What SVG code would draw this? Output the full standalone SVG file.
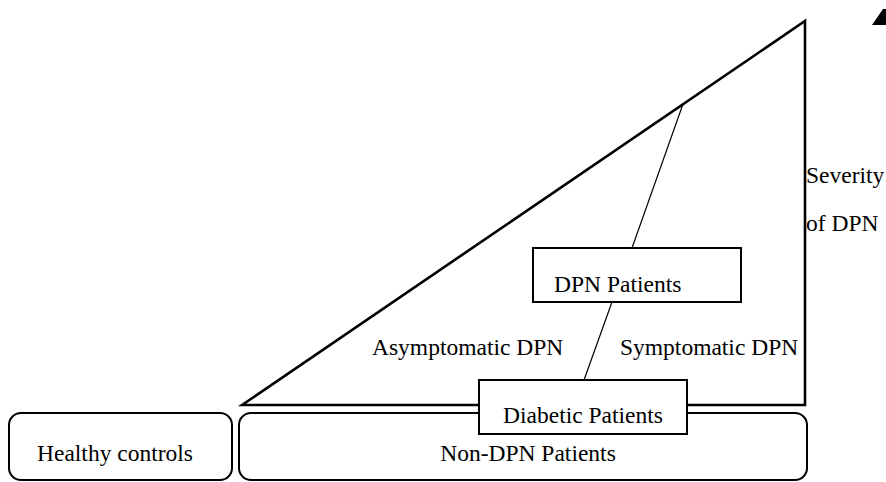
<svg xmlns="http://www.w3.org/2000/svg" width="886" height="482" viewBox="0 0 886 482">
<style>
text{font-family:"Liberation Serif","Times New Roman",serif;font-size:23.5px;fill:#000}
.box{fill:#fff;stroke:#000;stroke-width:2}
.rbox{fill:none;stroke:#000;stroke-width:2}
.tri{fill:none;stroke:#000;stroke-width:2.6;stroke-linejoin:miter}
.conn{stroke:#000;stroke-width:1.2;fill:none}
</style>
<rect width="886" height="482" fill="#fff"/>
<g id="severity">
<polygon class="tri" points="242,405 805,21 805,405"/>
<polygon points="872,25 886,25 886,9 883,9" fill="#000"/>
<text x="806" y="183">Severity</text>
<text x="806" y="231">of DPN</text>
<text x="372" y="355">Asymptomatic DPN</text>
<text x="620" y="355">Symptomatic DPN</text>
</g>
<g id="healthy">
<rect class="rbox" x="9" y="413" width="223" height="67" rx="12"/>
<text x="115" y="461" text-anchor="middle">Healthy controls</text>
</g>
<g id="nondpn">
<rect class="rbox" x="239" y="413" width="568" height="67" rx="12"/>
<text x="528" y="461" text-anchor="middle">Non-DPN Patients</text>
</g>
<g id="connectors">
<line class="conn" x1="683" y1="104" x2="632" y2="248"/>
<line class="conn" x1="612" y1="302" x2="584" y2="380"/>
</g>
<g id="dpn">
<rect class="box" x="533" y="248" width="208" height="54"/>
<text x="554" y="292">DPN Patients</text>
</g>
<g id="diabetic">
<rect class="box" x="479" y="380" width="208" height="54"/>
<text x="583" y="423" text-anchor="middle">Diabetic Patients</text>
</g>
</svg>
